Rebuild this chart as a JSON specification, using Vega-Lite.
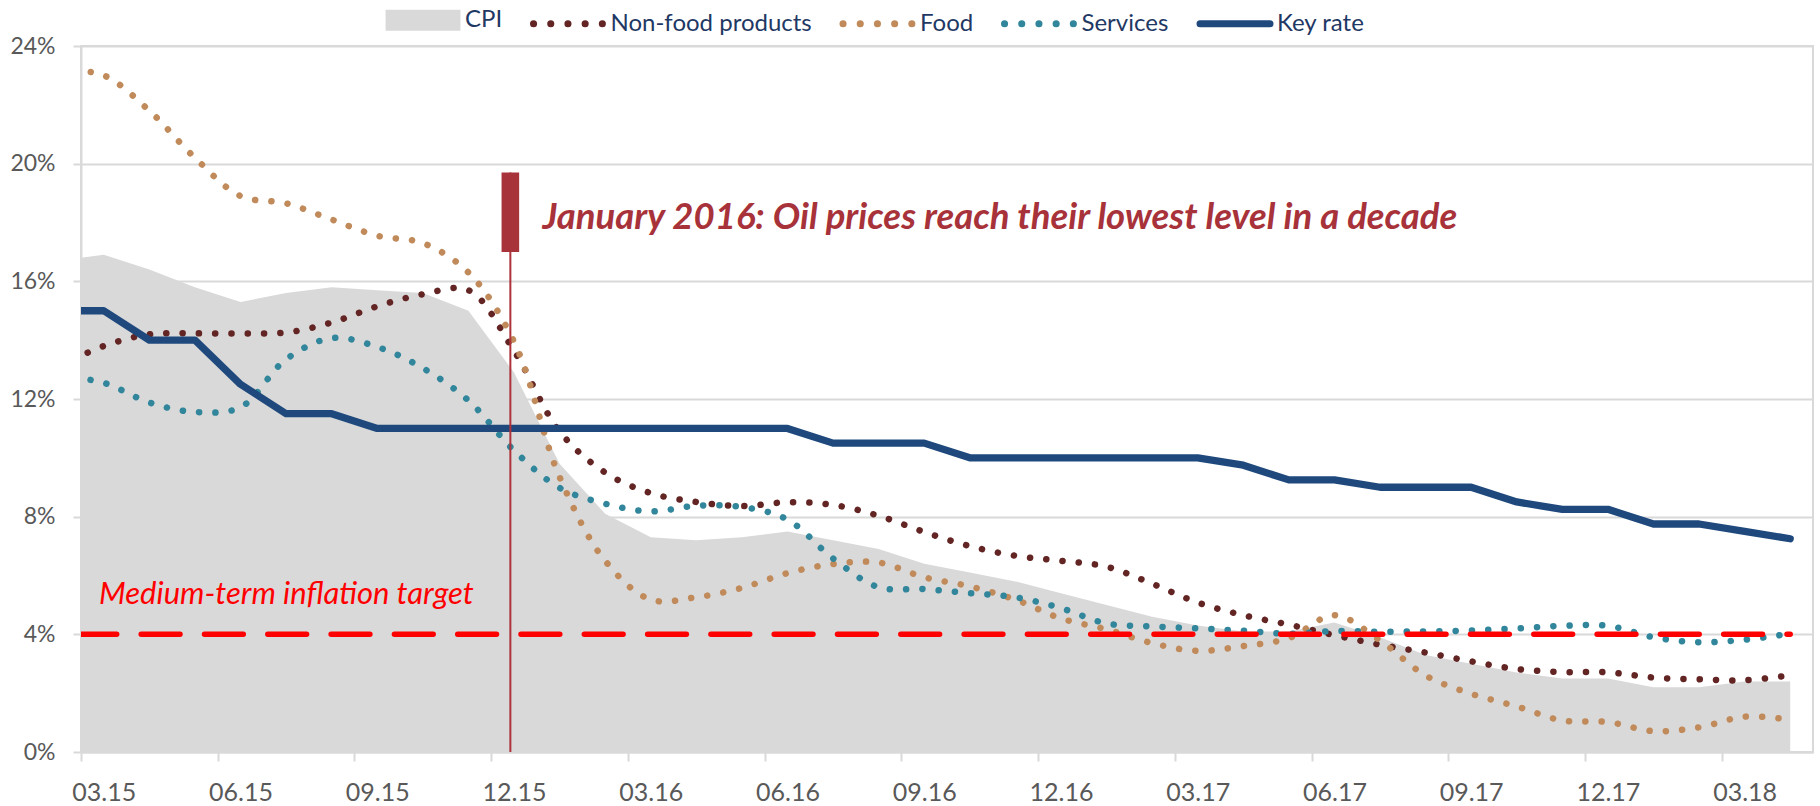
{
  "$schema": "https://vega.github.io/schema/vega-lite/v6.json",
  "width": 1732,
  "height": 706,
  "autosize": {"type": "none"},
  "padding": {"left": 81, "top": 46, "right": 7, "bottom": 54},
  "background": "white",
  "config": {
    "view": {"stroke": "#d9d9d9", "strokeWidth": 2},
    "font": "Lato",
    "axis": {
      "labelFont": "Lato",
      "labelColor": "#595959",
      "domainColor": "#d9d9d9",
      "domainWidth": 2,
      "tickColor": "#d9d9d9",
      "tickWidth": 2,
      "title": null
    }
  },
  "datasets": {
    "cpi": [
      {"idx": -1, "value": 16.7}, {"idx": 0, "value": 16.9}, {"idx": 1, "value": 16.4}, {"idx": 2, "value": 15.8},
      {"idx": 3, "value": 15.3}, {"idx": 4, "value": 15.6}, {"idx": 5, "value": 15.8}, {"idx": 6, "value": 15.7},
      {"idx": 7, "value": 15.6}, {"idx": 8, "value": 15.0}, {"idx": 9, "value": 12.9}, {"idx": 10, "value": 9.8},
      {"idx": 11, "value": 8.1}, {"idx": 12, "value": 7.3}, {"idx": 13, "value": 7.2}, {"idx": 14, "value": 7.3},
      {"idx": 15, "value": 7.5}, {"idx": 16, "value": 7.2}, {"idx": 17, "value": 6.9}, {"idx": 18, "value": 6.4},
      {"idx": 19, "value": 6.1}, {"idx": 20, "value": 5.8}, {"idx": 21, "value": 5.4}, {"idx": 22, "value": 5.0},
      {"idx": 23, "value": 4.6}, {"idx": 24, "value": 4.3}, {"idx": 25, "value": 4.1}, {"idx": 26, "value": 4.1},
      {"idx": 27, "value": 4.4}, {"idx": 28, "value": 3.9}, {"idx": 29, "value": 3.3}, {"idx": 30, "value": 3.0},
      {"idx": 31, "value": 2.7}, {"idx": 32, "value": 2.5}, {"idx": 33, "value": 2.5}, {"idx": 34, "value": 2.2},
      {"idx": 35, "value": 2.2}, {"idx": 36, "value": 2.4}, {"idx": 37, "value": 2.4}
    ],
    "parts": [
      {"idx": -1, "series": "Non-food products", "value": 13.1}, {"idx": 0, "series": "Non-food products", "value": 13.8},
      {"idx": 1, "series": "Non-food products", "value": 14.2}, {"idx": 2, "series": "Non-food products", "value": 14.23},
      {"idx": 3, "series": "Non-food products", "value": 14.23}, {"idx": 4, "series": "Non-food products", "value": 14.26},
      {"idx": 5, "series": "Non-food products", "value": 14.6}, {"idx": 6, "series": "Non-food products", "value": 15.15},
      {"idx": 7, "series": "Non-food products", "value": 15.56}, {"idx": 8, "series": "Non-food products", "value": 15.7},
      {"idx": 9, "series": "Non-food products", "value": 13.64}, {"idx": 10, "series": "Non-food products", "value": 10.9},
      {"idx": 11, "series": "Non-food products", "value": 9.5}, {"idx": 12, "series": "Non-food products", "value": 8.8},
      {"idx": 13, "series": "Non-food products", "value": 8.5}, {"idx": 14, "series": "Non-food products", "value": 8.36},
      {"idx": 15, "series": "Non-food products", "value": 8.49}, {"idx": 16, "series": "Non-food products", "value": 8.4},
      {"idx": 17, "series": "Non-food products", "value": 8.03}, {"idx": 18, "series": "Non-food products", "value": 7.48},
      {"idx": 19, "series": "Non-food products", "value": 7.0}, {"idx": 20, "series": "Non-food products", "value": 6.67},
      {"idx": 21, "series": "Non-food products", "value": 6.5}, {"idx": 22, "series": "Non-food products", "value": 6.3},
      {"idx": 23, "series": "Non-food products", "value": 5.72}, {"idx": 24, "series": "Non-food products", "value": 5.08},
      {"idx": 25, "series": "Non-food products", "value": 4.65}, {"idx": 26, "series": "Non-food products", "value": 4.33},
      {"idx": 27, "series": "Non-food products", "value": 3.97}, {"idx": 28, "series": "Non-food products", "value": 3.65},
      {"idx": 29, "series": "Non-food products", "value": 3.38}, {"idx": 30, "series": "Non-food products", "value": 3.08},
      {"idx": 31, "series": "Non-food products", "value": 2.82}, {"idx": 32, "series": "Non-food products", "value": 2.72},
      {"idx": 33, "series": "Non-food products", "value": 2.71}, {"idx": 34, "series": "Non-food products", "value": 2.53},
      {"idx": 35, "series": "Non-food products", "value": 2.47}, {"idx": 36, "series": "Non-food products", "value": 2.44},
      {"idx": 37, "series": "Non-food products", "value": 2.61},
      {"idx": -1, "series": "Food", "value": 23.2}, {"idx": 0, "series": "Food", "value": 23.0},
      {"idx": 1, "series": "Food", "value": 21.8}, {"idx": 2, "series": "Food", "value": 20.2},
      {"idx": 3, "series": "Food", "value": 18.9}, {"idx": 4, "series": "Food", "value": 18.65},
      {"idx": 5, "series": "Food", "value": 18.1}, {"idx": 6, "series": "Food", "value": 17.55},
      {"idx": 7, "series": "Food", "value": 17.3}, {"idx": 8, "series": "Food", "value": 16.3},
      {"idx": 9, "series": "Food", "value": 13.95}, {"idx": 10, "series": "Food", "value": 9.35},
      {"idx": 11, "series": "Food", "value": 6.5}, {"idx": 12, "series": "Food", "value": 5.18},
      {"idx": 13, "series": "Food", "value": 5.26}, {"idx": 14, "series": "Food", "value": 5.58},
      {"idx": 15, "series": "Food", "value": 6.08}, {"idx": 16, "series": "Food", "value": 6.39},
      {"idx": 17, "series": "Food", "value": 6.44}, {"idx": 18, "series": "Food", "value": 5.94},
      {"idx": 19, "series": "Food", "value": 5.63}, {"idx": 20, "series": "Food", "value": 5.18},
      {"idx": 21, "series": "Food", "value": 4.54}, {"idx": 22, "series": "Food", "value": 4.17},
      {"idx": 23, "series": "Food", "value": 3.7}, {"idx": 24, "series": "Food", "value": 3.44},
      {"idx": 25, "series": "Food", "value": 3.6}, {"idx": 26, "series": "Food", "value": 3.87},
      {"idx": 27, "series": "Food", "value": 4.65}, {"idx": 28, "series": "Food", "value": 3.79},
      {"idx": 29, "series": "Food", "value": 2.6}, {"idx": 30, "series": "Food", "value": 1.98},
      {"idx": 31, "series": "Food", "value": 1.55}, {"idx": 32, "series": "Food", "value": 1.07},
      {"idx": 33, "series": "Food", "value": 1.02}, {"idx": 34, "series": "Food", "value": 0.71},
      {"idx": 35, "series": "Food", "value": 0.84}, {"idx": 36, "series": "Food", "value": 1.2},
      {"idx": 37, "series": "Food", "value": 1.1},
      {"idx": -1, "series": "Services", "value": 12.8}, {"idx": 0, "series": "Services", "value": 12.55},
      {"idx": 1, "series": "Services", "value": 11.88}, {"idx": 2, "series": "Services", "value": 11.56},
      {"idx": 3, "series": "Services", "value": 11.72}, {"idx": 4, "series": "Services", "value": 13.35},
      {"idx": 5, "series": "Services", "value": 14.07}, {"idx": 6, "series": "Services", "value": 13.77},
      {"idx": 7, "series": "Services", "value": 13.05}, {"idx": 8, "series": "Services", "value": 11.95},
      {"idx": 9, "series": "Services", "value": 10.25}, {"idx": 10, "series": "Services", "value": 8.98},
      {"idx": 11, "series": "Services", "value": 8.44}, {"idx": 12, "series": "Services", "value": 8.18},
      {"idx": 13, "series": "Services", "value": 8.37}, {"idx": 14, "series": "Services", "value": 8.33},
      {"idx": 15, "series": "Services", "value": 7.9}, {"idx": 16, "series": "Services", "value": 6.58},
      {"idx": 17, "series": "Services", "value": 5.6}, {"idx": 18, "series": "Services", "value": 5.54},
      {"idx": 19, "series": "Services", "value": 5.4}, {"idx": 20, "series": "Services", "value": 5.26},
      {"idx": 21, "series": "Services", "value": 4.89}, {"idx": 22, "series": "Services", "value": 4.37},
      {"idx": 23, "series": "Services", "value": 4.27}, {"idx": 24, "series": "Services", "value": 4.2},
      {"idx": 25, "series": "Services", "value": 4.12}, {"idx": 26, "series": "Services", "value": 4.02},
      {"idx": 27, "series": "Services", "value": 4.11}, {"idx": 28, "series": "Services", "value": 4.09},
      {"idx": 29, "series": "Services", "value": 4.1}, {"idx": 30, "series": "Services", "value": 4.13},
      {"idx": 31, "series": "Services", "value": 4.2}, {"idx": 32, "series": "Services", "value": 4.29},
      {"idx": 33, "series": "Services", "value": 4.29}, {"idx": 34, "series": "Services", "value": 3.9},
      {"idx": 35, "series": "Services", "value": 3.73}, {"idx": 36, "series": "Services", "value": 3.82},
      {"idx": 37, "series": "Services", "value": 4.02}
    ],
    "rate": [
      {"idx": -1, "value": 15}, {"idx": 0, "value": 15}, {"idx": 1, "value": 14}, {"idx": 2, "value": 14},
      {"idx": 3, "value": 12.5}, {"idx": 4, "value": 11.5}, {"idx": 5, "value": 11.5}, {"idx": 6, "value": 11},
      {"idx": 7, "value": 11}, {"idx": 8, "value": 11}, {"idx": 9, "value": 11}, {"idx": 10, "value": 11},
      {"idx": 11, "value": 11}, {"idx": 12, "value": 11}, {"idx": 13, "value": 11}, {"idx": 14, "value": 11},
      {"idx": 15, "value": 11}, {"idx": 16, "value": 10.5}, {"idx": 17, "value": 10.5}, {"idx": 18, "value": 10.5},
      {"idx": 19, "value": 10}, {"idx": 20, "value": 10}, {"idx": 21, "value": 10}, {"idx": 22, "value": 10},
      {"idx": 23, "value": 10}, {"idx": 24, "value": 10}, {"idx": 25, "value": 9.75}, {"idx": 26, "value": 9.25},
      {"idx": 27, "value": 9.25}, {"idx": 28, "value": 9}, {"idx": 29, "value": 9}, {"idx": 30, "value": 9},
      {"idx": 31, "value": 8.5}, {"idx": 32, "value": 8.25}, {"idx": 33, "value": 8.25}, {"idx": 34, "value": 7.75},
      {"idx": 35, "value": 7.75}, {"idx": 36, "value": 7.5}, {"idx": 37, "value": 7.25}
    ],
    "target": [{"idx": -0.5, "value": 4}, {"idx": 37, "value": 4}],
    "eventLine": [{"idx": 8.92, "value": 0, "value2": 19.7}],
    "eventBar": [{"idx": 8.92, "value": 17, "value2": 19.7}],
    "eventNote": [{"idx": 9.625, "value": 17.78, "label": "January 2016: Oil prices reach their lowest level in a decade"}],
    "targetNote": [{"idx": -0.105, "value": 5.02, "label": "Medium-term inflation target"}]
  },
  "encoding": {
    "x": {
      "field": "idx",
      "type": "quantitative",
      "scale": {"domain": [-0.5, 37.5], "nice": false, "zero": false},
      "axis": {
        "orient": "bottom",
        "values": [-0.5, 2.5, 5.5, 8.5, 11.5, 14.5, 17.5, 20.5, 23.5, 26.5, 29.5, 32.5, 35.5],
        "labelExpr": "timeFormat(datetime(2015, 2.5 + datum.value, 1), '%m.%y')",
        "labelFontSize": 25,
        "labelOffset": 22.8,
        "labelPadding": 19,
        "tickSize": 9,
        "grid": false,
        "labelFlush": false,
        "labelOverlap": false,
        "labelBound": false
      }
    },
    "y": {
      "field": "value",
      "type": "quantitative",
      "scale": {"domain": [0, 24], "nice": false, "zero": true},
      "axis": {
        "orient": "left",
        "values": [0, 4, 8, 12, 16, 20, 24],
        "labelExpr": "datum.value + '%'",
        "labelFontSize": 23,
        "tickSize": 8,
        "labelPadding": 18,
        "grid": true,
        "gridColor": "#d9d9d9",
        "gridWidth": 2
      }
    }
  },
  "layer": [
    {
      "data": {"name": "cpi"},
      "mark": {"type": "area", "clip": true, "interpolate": "linear", "color": "#d9d9d9"},
      "encoding": {}
    },
    {
      "data": {"name": "parts"},
      "mark": {
        "type": "line",
        "clip": true,
        "interpolate": "catmull-rom",
        "strokeWidth": 6.5,
        "strokeDash": [0.1, 16.2],
        "strokeCap": "round"
      },
      "encoding": {
        "color": {
          "field": "series",
          "type": "nominal",
          "scale": {
            "domain": ["CPI", "Non-food products", "Food", "Services", "Key rate"],
            "range": ["#d9d9d9", "#632523", "#c08a5a", "#31869b", "#1f497d"]
          },
          "legend": {
            "title": null,
            "orient": "none",
            "legendX": 303.5,
            "legendY": -64.5,
            "direction": "horizontal",
            "values": ["CPI", "Non-food products", "Food", "Services", "Key rate"],
            "labelFont": "Lato",
            "labelFontSize": 24,
            "labelColor": "#1f3864",
            "labelOffset": 3.5,
            "columnPadding": 16.5,
            "symbolSize": 4900,
            "symbolStrokeWidth": 7,
            "labelLimit": 400,
            "symbolType": {"expr": "datum.value === 'CPI' ? 'M-0.97,-0.2H0.97V0.2H-0.97Z' : 'stroke'"},
            "symbolFillColor": {"expr": "datum.value === 'CPI' ? '#d9d9d9' : 'transparent'"},
            "symbolStrokeColor": {"expr": "datum.value === 'CPI' ? 'transparent' : datum.value === 'Non-food products' ? '#632523' : datum.value === 'Food' ? '#c08a5a' : datum.value === 'Services' ? '#31869b' : '#1f497d'"},
            "symbolDash": {"expr": "(datum.value === 'Key rate' || datum.value === 'CPI') ? [1, 0] : [0.1, 17.1]"},
            "encode": {
              "symbols": {
                "update": {
                  "strokeCap": {"value": "round"}
                }
              }
            }
          }
        },
        "order": {"field": "idx", "type": "quantitative"}
      }
    },
    {
      "data": {"name": "rate"},
      "mark": {"type": "line", "clip": true, "strokeWidth": 7.3, "strokeCap": "round", "strokeJoin": "round", "color": "#1f497d"},
      "encoding": {}
    },
    {
      "data": {"name": "target"},
      "mark": {
        "type": "line",
        "clip": true,
        "color": "#ff0000",
        "strokeWidth": 5.5,
        "strokeDash": [38.8, 24.5],
        "strokeDashOffset": 3.1,
        "strokeCap": "round"
      },
      "encoding": {}
    },
    {
      "data": {"name": "eventLine"},
      "mark": {"type": "rule", "color": "#ad3239", "strokeWidth": 2},
      "encoding": {"y2": {"field": "value2"}}
    },
    {
      "data": {"name": "eventBar"},
      "mark": {"type": "rule", "color": "#a8323a", "strokeWidth": 17.6, "strokeCap": "butt"},
      "encoding": {"y2": {"field": "value2"}}
    },
    {
      "data": {"name": "eventNote"},
      "mark": {
        "type": "text",
        "align": "left",
        "baseline": "alphabetic",
        "font": "Lato",
        "fontSize": 36.5,
        "fontWeight": "bold",
        "fontStyle": "italic",
        "color": "#a8323a"
      },
      "encoding": {"text": {"field": "label"}}
    },
    {
      "data": {"name": "targetNote"},
      "mark": {
        "type": "text",
        "align": "left",
        "baseline": "alphabetic",
        "font": "Lato",
        "fontSize": 31,
        "fontStyle": "italic",
        "color": "#ff0000"
      },
      "encoding": {"text": {"field": "label"}}
    }
  ]
}
